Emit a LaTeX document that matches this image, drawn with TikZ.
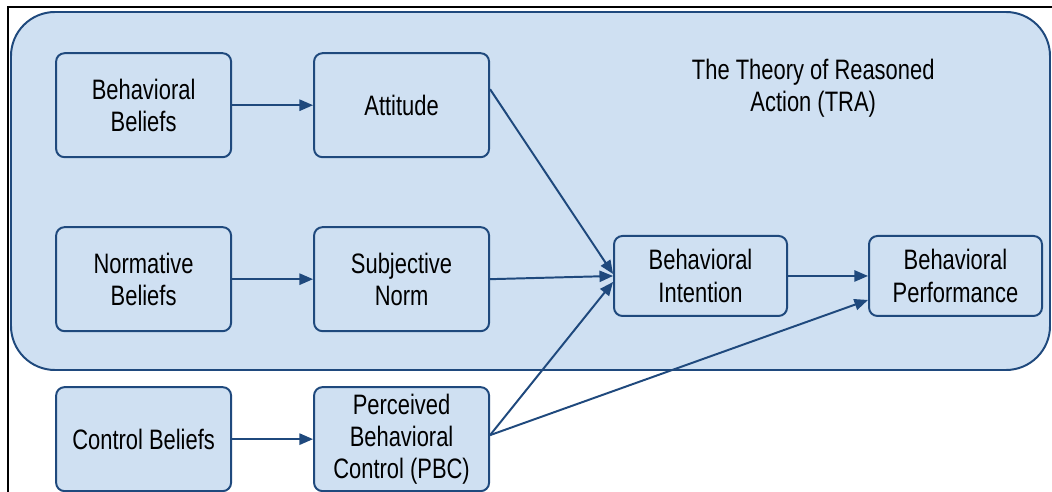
\documentclass[tikz,border=0pt]{standalone}
\usepackage{fontspec}
\setmainfont[FakeStretch=0.78]{Liberation Sans}
\usetikzlibrary{arrows.meta, positioning}
\definecolor{trafill}{RGB}{207,224,242}
\definecolor{traline}{RGB}{31,73,125}

\begin{document}
\begin{tikzpicture}[
    node distance=1.7cm and 2.025cm,
    box/.style={rectangle, draw=traline, line width=1.4pt, fill=trafill, rounded corners=6pt, minimum width=4.375cm, minimum height=2.6cm, inner sep=2pt, align=center, font=\fontsize{20}{23}\selectfont},
    smallbox/.style={box, minimum width=4.325cm, minimum height=2cm},
    arrow/.style={-{Triangle[length=0.34cm, width=0.28cm]}, draw=traline, line width=1.4pt},
  ]
    \useasboundingbox (0,0) rectangle (26.3,-12.3);
    % Frame and TRA area
    \draw[line width=1.3pt] (0.2,-12.4) -- (0.2,-0.175) -- (26.4,-0.175);
    \draw[draw=traline, line width=1.4pt, fill=trafill, rounded corners=1.1cm] (0.275,-0.3) rectangle (26.25,-9.25);
    \node[font=\fontsize{20}{23}\selectfont, align=center] (title) at (20.33,-2.2) {The Theory of Reasoned\\Action (TRA)};

    % Nodes
    \node[box] (bb) at (3.59,-2.63) {Behavioral\\Beliefs};
    \node[box, right=of bb] (att) {Attitude};
    \node[box, below=of bb] (nb) {Normative\\Beliefs};
    \node[box, right=of nb] (sn) {Subjective\\Norm};
    \node[box, below=1.35cm of nb] (cb) {Control Beliefs};
    \node[box, right=of cb] (pbc) {Perceived\\Behavioral\\Control (PBC)};
    \node[smallbox, right=3.075cm of sn, yshift=0.08cm] (intent) {Behavioral\\Intention};
    \node[smallbox, right=2cm of intent] (perf) {Behavioral\\Performance};

    % Arrows
    \draw[arrow] (bb) -- (att);
    \draw[arrow] (nb) -- (sn);
    \draw[arrow] (cb) -- (pbc);
    \draw[arrow] ([yshift=0.4cm]att.east) -- ([yshift=0.05cm]intent.west);
    \draw[arrow] (sn.east) -- (intent.west);
    \draw[arrow] ([yshift=0.1cm]pbc.east) -- ([yshift=-0.15cm]intent.west);
    \draw[arrow] ([yshift=0.1cm]pbc.east) -- ([yshift=-0.6cm]perf.west);
    \draw[arrow] (intent) -- (perf);

  \end{tikzpicture}
\end{document}
